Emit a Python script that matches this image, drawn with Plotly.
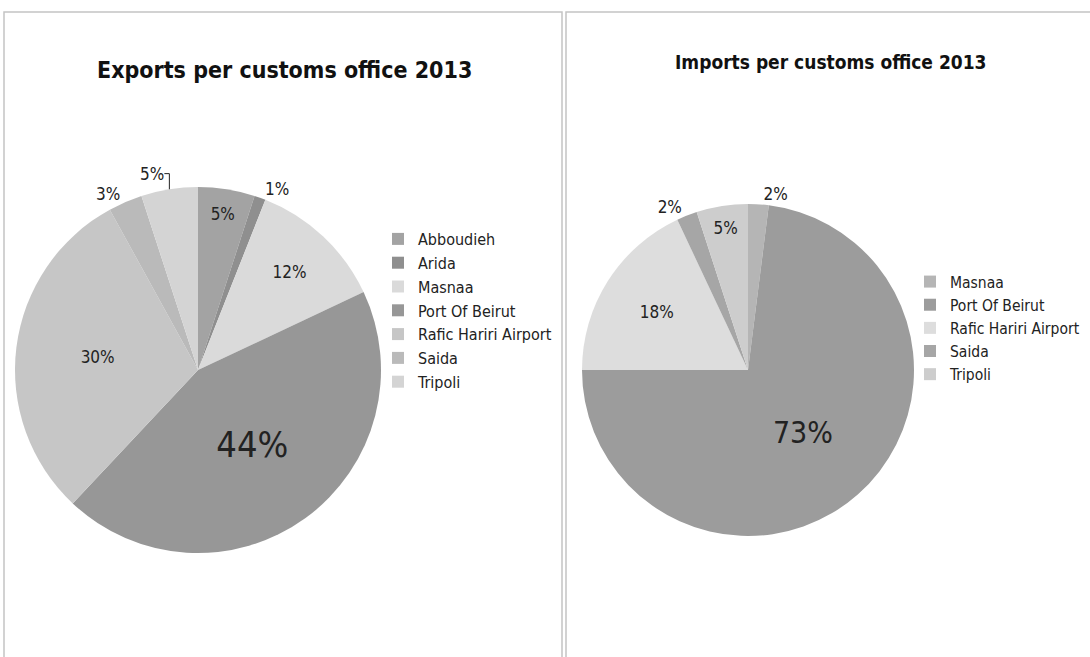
import plotly.graph_objects as go

# Customs offices and their share (%) of 2013 trade
export_offices = ["Abboudieh", "Arida", "Masnaa", "Port Of Beirut",
                  "Rafic Hariri Airport", "Saida", "Tripoli"]
export_share = [5, 1, 12, 44, 30, 3, 5]

import_offices = ["Masnaa", "Port Of Beirut", "Rafic Hariri Airport", "Saida", "Tripoli"]
import_share = [2, 73, 18, 2, 5]

export_colors = ["#a3a3a3", "#8f8f8f", "#dadada", "#979797", "#c6c6c6", "#bababa", "#d4d4d4"]
import_colors = ["#b5b5b5", "#9c9c9c", "#dddddd", "#a6a6a6", "#cdcdcd"]

FONT = "DejaVu Sans Condensed, Liberation Sans Narrow, Roboto, sans-serif"
W, H = 1090, 657

fig = go.Figure()

fig.add_trace(go.Pie(
    labels=export_offices, values=export_share,
    sort=False, direction="clockwise", rotation=0,
    marker=dict(colors=export_colors, line=dict(width=0)),
    texttemplate="%{percent:.0%}",
    textposition=["inside", "outside", "inside", "inside", "inside", "outside", "outside"],
    insidetextorientation="horizontal",
    textfont=dict(family=FONT, color="#222222",
                  size=[17, 17, 17, 36, 17, 17, 17]),
    domain=dict(x=[15 / W, 381 / W], y=[(H - 370 - 183) / H, (H - 370 + 183) / H]),
    legend="legend", legendgroup="exports", showlegend=True,
))

# separate legend group so the shared office names get their own legend entries
fig.add_trace(go.Pie(
    labels=import_offices, values=import_share,
    sort=False, direction="clockwise", rotation=0,
    marker=dict(colors=import_colors, line=dict(width=0)),
    texttemplate="%{percent:.0%}",
    textposition=["outside", "inside", "inside", "outside", "inside"],
    insidetextorientation="horizontal",
    textfont=dict(family=FONT, color="#222222", size=[17, 30, 17, 17, 17]),
    domain=dict(x=[582 / W, 914 / W], y=[(H - 370 - 166) / H, (H - 370 + 166) / H]),
    legend="legend2", legendgroup="imports", showlegend=True,
))

legend_style = dict(bgcolor="rgba(0,0,0,0)", xanchor="left", yanchor="top",
                    traceorder="normal", itemwidth=30,
                    itemclick=False, itemdoubleclick=False, visible=True)

fig.update_layout(
    width=W, height=H,
    margin=dict(l=0, r=0, t=0, b=0),
    paper_bgcolor="white", plot_bgcolor="white",
    font=dict(family=FONT),
    showlegend=True,
    legend=dict(x=378 / W, y=1 - 222 / H,
                font=dict(family=FONT, size=16, color="#222222"), **legend_style),
    legend2=dict(x=910 / W, y=1 - 265 / H,
                 font=dict(family=FONT, size=15.5, color="#222222"), **legend_style),
    annotations=[
        dict(text="<b>Exports per customs office 2013</b>", x=284 / W, y=1 - 70 / H,
             xref="paper", yref="paper", xanchor="center", yanchor="middle", showarrow=False,
             font=dict(family=FONT, size=23, color="#111111")),
        dict(text="<b>Imports per customs office 2013</b>", x=831 / W, y=1 - 62 / H,
             xref="paper", yref="paper", xanchor="center", yanchor="middle", showarrow=False,
             font=dict(family=FONT, size=19, color="#111111")),
    ],
    shapes=[
        dict(type="rect", xref="paper", yref="paper",
             x0=4 / W, x1=562 / W, y0=-0.05, y1=1 - 12 / H,
             line=dict(color="#c4c4c4", width=1.5)),
        dict(type="rect", xref="paper", yref="paper",
             x0=566 / W, x1=1.05, y0=-0.05, y1=1 - 12 / H,
             line=dict(color="#c4c4c4", width=1.5)),
    ],
)

fig.write_html("out.html")
